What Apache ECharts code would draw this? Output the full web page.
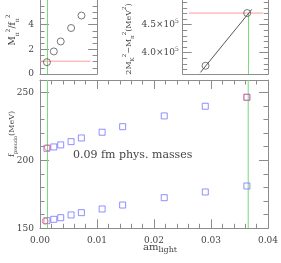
<!DOCTYPE html>
<html><head><meta charset="utf-8">
<script src="https://cdn.jsdelivr.net/npm/echarts@6/dist/echarts.min.js"></script>
<style>html,body{margin:0;padding:0;background:#fff}#c{width:281px;height:263px}</style>
</head><body><div id="c"></div><script>
// ---------- data ----------
const amLight = [0.00121, 0.00242, 0.00363, 0.00545, 0.00726, 0.0109, 0.0145, 0.0218, 0.0290, 0.0363];
const fUpper  = [208.8, 209.8, 211.3, 213.7, 216.4, 220.6, 224.7, 232.6, 239.7, 246.3];
const fLower  = [155.6, 156.6, 157.8, 159.8, 161.5, 164.2, 167.1, 172.5, 176.7, 181.1];
const physAm  = [0.0009, 0.0013];
const physF   = [155.3, 209.3];
const strangeAm = [0.0363];
const strangeF  = [246.3];
const mlPhys = 0.00131;
const msPhys = 0.03653;
const ratioAm  = [0.00121, 0.00242, 0.00363, 0.00545, 0.00726];
const ratioVal = [0.96, 1.83, 2.64, 3.73, 4.74];
const ratioPhysAm  = [0, 0.00885];
const ratioPhysVal = [1.04, 1.04];
const kAm  = [0.0290, 0.0363];
const kVal = [376700, 470700];
const kPhysAm  = [0.0261, 0.0391];
const kPhysVal = [470700, 470700];
const fitAm  = [0.0281, 0.0371];
const fitVal = [364800, 477200];
const msDropVal = [362000, 470700];
// ticks
const mainXMajor = [0, 0.01, 0.02, 0.03, 0.04];
const mainXMinor = [0.002,0.004,0.006,0.008,0.012,0.014,0.016,0.018,0.022,0.024,0.026,0.028,0.032,0.034,0.036,0.038];
const mainYMajor = [150, 200, 250];
const mainYMinor = [160,170,180,190,210,220,230,240];
const tlYMajor = [0, 2, 4];
const tlYMinor = [0.5,1,1.5,2.5,3,3.5,4.5,5,5.5];
const trYMajor = [400000, 450000];
const trYMinor = [370000,380000,390000,410000,420000,430000,440000,460000,470000,480000,490000];

// ---------- style ----------
const FONT = 'DejaVu Serif';
const TXT = '#444';
const AX = '#8c8c8c';
const BLUE = '#7474ff';
const RED = '#ff6464';
const PINK = '#ff9a9a';
const GREEN = '#7ad87a';

const xAxes = [], yAxes = [];
function mkAxis(list, grid, pos, min, max, vals, len, line, label) {
  list.push({
    type: 'value', gridIndex: grid, position: pos, min: min, max: max,
    axisLine: {show: !!line, onZero: false, lineStyle: {color: AX, width: 1}},
    axisTick: vals.length ? {show: true, inside: true, length: len, customValues: vals, lineStyle: {color: AX, width: 1}} : {show: false},
    axisLabel: label ? Object.assign({show: true, color: TXT, fontFamily: FONT, fontSize: 9}, label) : {show: false},
    splitLine: {show: false}
  });
  return list.length - 1;
}
// main grid 0
const xm = mkAxis(xAxes, 0, 'bottom', 0, 0.04, mainXMajor, 9, true, {customValues: mainXMajor, margin: 8, formatter: v => v.toFixed(2)});
mkAxis(xAxes, 0, 'bottom', 0, 0.04, mainXMinor, 4.5, false);
mkAxis(xAxes, 0, 'top', 0, 0.04, mainXMajor, 9, true);
mkAxis(xAxes, 0, 'top', 0, 0.04, mainXMinor, 4.5, false);
const ym = mkAxis(yAxes, 0, 'left', 150, 259, mainYMajor, 9, true, {customValues: mainYMajor, margin: 6, formatter: v => String(v)});
mkAxis(yAxes, 0, 'left', 150, 259, mainYMinor, 4.5, false);
mkAxis(yAxes, 0, 'right', 150, 259, mainYMajor, 9, true);
mkAxis(yAxes, 0, 'right', 150, 259, mainYMinor, 4.5, false);
// top-left grid 1
const xtl = mkAxis(xAxes, 1, 'bottom', 0, 0.01, [], 0, true);
const ytl = mkAxis(yAxes, 1, 'left', 0, 6, tlYMajor, 9, true, {customValues: tlYMajor, margin: 6, formatter: v => String(v)});
mkAxis(yAxes, 1, 'left', 0, 6, tlYMinor, 4.5, false);
mkAxis(yAxes, 1, 'right', 0, 6, tlYMajor, 9, true);
mkAxis(yAxes, 1, 'right', 0, 6, tlYMinor, 4.5, false);
// top-right grid 2
const xtr = mkAxis(xAxes, 2, 'bottom', 0.025, 0.04, [], 0, true);
const ytr = mkAxis(yAxes, 2, 'left', 362000, 494000, trYMajor, 9, true, {
  customValues: trYMajor, margin: 4,
  formatter: v => '{n|' + (v / 1e5).toFixed(1) + '×10}{s|5}',
  rich: {n: {fontFamily: FONT, fontSize: 9, color: TXT, lineHeight: 13},
         s: {fontFamily: FONT, fontSize: 6, color: TXT, lineHeight: 6, verticalAlign: 'top'}}
});
mkAxis(yAxes, 2, 'left', 362000, 494000, trYMinor, 4.5, false);
mkAxis(yAxes, 2, 'right', 362000, 494000, trYMajor, 9, true);
mkAxis(yAxes, 2, 'right', 362000, 494000, trYMinor, 4.5, false);

const zip = (a, b) => a.map((v, i) => [v, b[i]]);
const boxStyle = c => ({color: 'rgba(0,0,0,0)', borderColor: c, borderWidth: 1});
const seg = (xi, yi, xs, ys, c, z) => ({type: 'line', xAxisIndex: xi, yAxisIndex: yi, symbol: 'none', silent: true,
  lineStyle: {color: c, width: 1}, data: zip(xs, ys), z: z || 2});

const series = [
  seg(xm, ym, [mlPhys, mlPhys], [150, 259], GREEN),
  seg(xm, ym, [msPhys, msPhys], [150, 259], GREEN),
  {type: 'scatter', xAxisIndex: xm, yAxisIndex: ym, symbol: 'rect', symbolSize: 6, itemStyle: boxStyle(BLUE), data: zip(amLight, fUpper), z: 3},
  {type: 'scatter', xAxisIndex: xm, yAxisIndex: ym, symbol: 'rect', symbolSize: 6, itemStyle: boxStyle(BLUE), data: zip(amLight, fLower), z: 3},
  {type: 'scatter', xAxisIndex: xm, yAxisIndex: ym, symbol: 'circle', symbolSize: 6, itemStyle: boxStyle(RED), data: zip(physAm, physF), z: 4},
  {type: 'scatter', xAxisIndex: xm, yAxisIndex: ym, symbol: 'rect', symbolSize: 6, itemStyle: {color: 'rgba(0,0,0,0)', borderColor: 'rgba(255,60,60,0.6)', borderWidth: 1}, data: zip(strangeAm, strangeF), z: 4},
  // top-left
  seg(xtl, ytl, [mlPhys, mlPhys], [0, 6], GREEN),
  seg(xtl, ytl, ratioPhysAm, ratioPhysVal, PINK),
  {type: 'scatter', xAxisIndex: xtl, yAxisIndex: ytl, symbol: 'circle', symbolSize: 7, itemStyle: boxStyle('#555'), data: zip(ratioAm, ratioVal), z: 3},
  // top-right
  seg(xtr, ytr, kPhysAm, kPhysVal, PINK),
  seg(xtr, ytr, [msPhys, msPhys], msDropVal, GREEN),
  seg(xtr, ytr, fitAm, fitVal, '#555'),
  {type: 'scatter', xAxisIndex: xtr, yAxisIndex: ytr, symbol: 'circle', symbolSize: 7, itemStyle: boxStyle('#555'), data: zip(kAm, kVal), z: 3}
];

const sty = (s, v) => Object.assign({fontFamily: FONT, fontSize: s, fill: TXT}, v || {});
const graphic = [
  {type: 'text', x: 73, y: 155, style: {text: '0.09 fm phys. masses', fontFamily: FONT, fontSize: 11, fill: TXT, align: 'left', verticalAlign: 'middle'}},
  {type: 'text', x: 143, y: 247, style: {text: '{a|am}{b|light}', align: 'left', verticalAlign: 'middle',
    rich: {a: sty(10, {lineHeight: 14}), b: sty(8, {lineHeight: 8, verticalAlign: 'bottom'})}}},
  {type: 'text', x: 12, y: 134, rotation: Math.PI / 2, style: {text: '{a|f}{b|pseudo}{a|(MeV)}', align: 'center', verticalAlign: 'middle',
    rich: {a: sty(8, {lineHeight: 13}), b: sty(5, {lineHeight: 5, verticalAlign: 'bottom'})}}},
  {type: 'text', x: 13, y: 30, rotation: Math.PI / 2, style: {text: '{a|M}{p|π}{s|2}{a|/f}{p|π}{s|2}', align: 'center', verticalAlign: 'middle',
    rich: {a: sty(9, {lineHeight: 15}), s: sty(6, {lineHeight: 6, verticalAlign: 'top'}), p: sty(6, {lineHeight: 6, verticalAlign: 'bottom'})}}},
  {type: 'text', x: 129, y: 39, rotation: Math.PI / 2, style: {text: '{a|2M}{p|K}{s|2}{a|−M}{p|π}{s|2}{a|(MeV}{s|2}{a|)}', align: 'center', verticalAlign: 'middle',
    rich: {a: sty(8, {lineHeight: 14}), s: sty(5.5, {lineHeight: 6, verticalAlign: 'top'}), p: sty(5.5, {lineHeight: 6, verticalAlign: 'bottom'})}}}
];

const chart = echarts.init(document.getElementById('c'), null, {renderer: 'canvas'});
chart.setOption({
  animation: false,
  backgroundColor: '#fff',
  grid: [
    {left: 40, top: 80, width: 228.3, height: 148.3},
    {left: 40, top: -7, width: 57.1, height: 81},
    {left: 182.7, top: -7, width: 85.6, height: 81}
  ],
  xAxis: xAxes,
  yAxis: yAxes,
  series: series,
  graphic: graphic
});
</script></body></html>
